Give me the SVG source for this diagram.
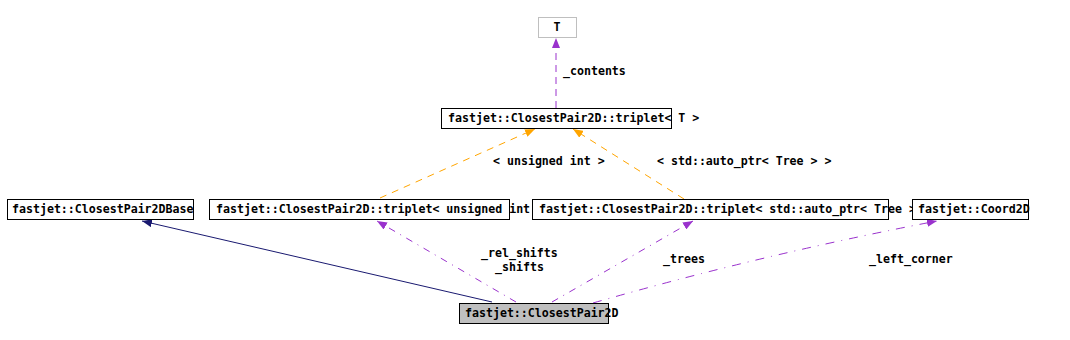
<svg xmlns="http://www.w3.org/2000/svg" width="1070" height="340" viewBox="0 0 1070 340">
<style>
text{font-family:"DejaVu Sans Mono","Liberation Mono",monospace;font-weight:bold;font-size:11.6px;fill:#000}
.box{fill:#fff;stroke:#000;stroke-width:1}
.p{fill:none;stroke:#9a32cd;stroke-width:1}
.o{fill:none;stroke:#ffa500;stroke-width:1;stroke-dasharray:7,6}
.n{fill:none;stroke:#191970;stroke-width:1}
</style>
<defs>
<marker id="ap" markerWidth="11" markerHeight="8" refX="10" refY="4" orient="auto" markerUnits="userSpaceOnUse"><path d="M0,0 L10,4 L0,8 z" fill="#9a32cd"/></marker>
<marker id="ao" markerWidth="11" markerHeight="8" refX="10" refY="4" orient="auto" markerUnits="userSpaceOnUse"><path d="M0,0 L10,4 L0,8 z" fill="#ffa500"/></marker>
<marker id="an" markerWidth="11" markerHeight="8" refX="10" refY="4" orient="auto" markerUnits="userSpaceOnUse"><path d="M0,0 L10,4 L0,8 z" fill="#191970"/></marker>
<clipPath id="c1"><rect x="200" y="195" width="332" height="30"/></clipPath>
<clipPath id="c2"><rect x="530" y="195" width="382" height="30"/></clipPath>
</defs>
<g id="connectors">
<path class="p" d="M556,108 L556,38" stroke-dasharray="7,5" marker-end="url(#ap)"/>
<text x="563" y="75">_contents</text>
<path class="o" d="M380,198 L535,129" marker-end="url(#ao)"/>
<text x="493" y="165">&lt; unsigned int &gt;</text>
<path class="o" d="M684,199 L573,129" marker-end="url(#ao)"/>
<text x="657" y="165">&lt; std::auto_ptr&lt; Tree &gt; &gt;</text>
<path class="n" d="M492,302 L142,221" marker-end="url(#an)"/>
<path class="p" d="M516,302 L377,221" stroke-dasharray="7,6,1,6" marker-end="url(#ap)"/>
<text x="481" y="257">_rel_shifts</text>
<text x="495" y="271">_shifts</text>
<path class="p" d="M552,302 L693,221" stroke-dasharray="7,6,1,6" marker-end="url(#ap)"/>
<text x="663" y="263">_trees</text>
<path class="p" d="M593,303 Q760,255 937,221" stroke-dasharray="9,7,1,7" marker-end="url(#ap)"/>
<text x="869" y="263">_left_corner</text>
</g>
<g id="node_T">
<rect x="538.5" y="17.5" width="38" height="20" fill="#fff" stroke="#bfbfbf"/>
<text x="557" y="31" text-anchor="middle">T</text>
</g>
<g id="node_tripletT">
<rect class="box" x="441.5" y="108.5" width="230" height="20"/>
<text x="448" y="122">fastjet::ClosestPair2D::triplet&lt; T &gt;</text>
</g>
<g id="node_Base">
<rect class="box" x="7.5" y="199.5" width="186" height="20"/>
<text x="12" y="213">fastjet::ClosestPair2DBase</text>
</g>
<g id="node_tripletUInt">
<rect class="box" x="209.5" y="199.5" width="300" height="20"/>
<text x="216" y="213" clip-path="url(#c1)">fastjet::ClosestPair2D::triplet&lt; unsigned int &gt;</text>
</g>
<g id="node_tripletTree">
<rect class="box" x="532.5" y="199.5" width="356" height="20"/>
<text x="539" y="213" clip-path="url(#c2)">fastjet::ClosestPair2D::triplet&lt; std::auto_ptr&lt; Tree &gt; &gt;</text>
</g>
<g id="node_Coord2D">
<rect class="box" x="912.5" y="199.5" width="116" height="20"/>
<text x="918" y="213">fastjet::Coord2D</text>
</g>
<g id="node_ClosestPair2D">
<rect x="459.5" y="303.5" width="149" height="20" fill="#bfbfbf" stroke="#000"/>
<text x="465" y="317">fastjet::ClosestPair2D</text>
</g>
</svg>
